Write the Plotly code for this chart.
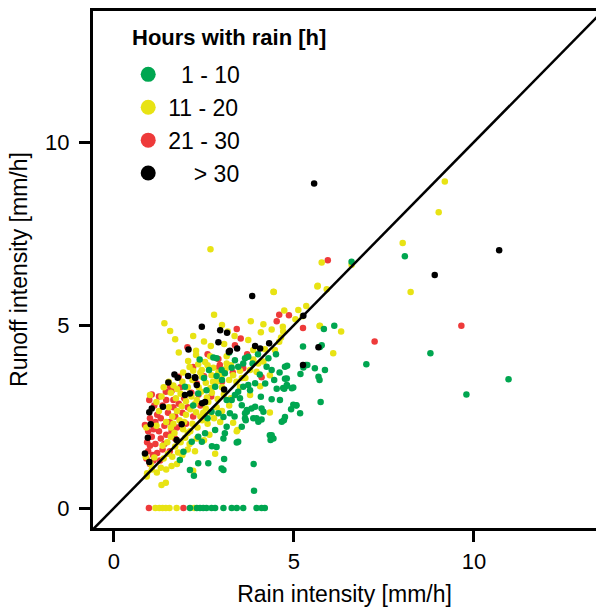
import plotly.graph_objects as go

# ---------------- data (rain intensity [mm/h], runoff intensity [mm/h]) ----------------
green_pts = [
    (8.08, 6.88), (6.60, 6.73), (8.79, 4.23), (10.96, 3.52), (9.79, 3.10), (7.01, 3.93),
    (5.83, 4.89), (6.12, 4.98), (5.25, 4.41), (5.72, 4.40), (5.77, 4.45), (5.33, 3.91),
    (4.81, 3.89), (5.58, 3.82), (5.86, 3.77), (5.18, 3.66), (4.75, 3.53), (4.80, 3.54),
    (5.71, 3.50), (4.81, 3.34), (4.98, 3.29), (4.70, 3.28), (4.52, 3.26), (4.73, 3.26),
    (5.74, 2.90), (4.98, 2.82), (5.06, 2.80), (4.92, 2.70), (5.17, 2.59), (4.72, 2.40),
    (4.66, 2.36), (4.38, 1.99), (4.35, 1.86), (4.43, 1.90), (3.88, 1.20), (3.89, 0.47),
    (3.04, 1.04), (3.06, 1.34), (2.62, 1.22), (2.22, 0.88), (2.72, 1.69), (3.41, 1.79),
    (3.55, 2.22), (3.08, 2.04), (3.66, 2.40), (3.87, 2.45), (4.10, 2.42), (4.08, 3.04),
    (4.38, 2.97), (3.69, 2.63), (3.36, 4.04), (3.64, 4.09), (3.73, 4.13), (3.59, 3.95),
    (4.29, 4.09), (3.27, 3.83), (3.45, 3.86), (4.24, 3.86), (4.38, 3.77), (4.75, 3.86),
    (5.37, 3.91), (5.26, 3.84), (5.68, 3.59), (2.38, 4.06), (2.76, 4.11), (2.64, 3.77),
    (2.99, 3.77), (2.85, 3.61), (3.08, 3.68), (3.27, 2.95), (3.36, 3.09), (3.45, 3.18),
    (3.59, 3.31), (3.73, 3.36), (3.92, 3.41), (3.78, 3.22), (3.55, 2.81), (3.69, 2.68),
    (3.64, 2.59), (3.82, 2.72), (3.92, 2.77), (4.10, 2.72), (4.15, 2.63), (3.96, 2.45),
    (4.01, 2.36), (3.64, 2.45), (3.45, 1.81), (4.33, 1.99), (4.61, 2.95), (4.80, 3.36),
    (4.94, 3.27), (5.07, 2.81), (4.75, 2.49), (1.97, 3.31), (2.34, 3.13), (2.57, 3.22),
    (2.81, 3.31), (2.71, 2.63), (2.90, 2.59), (3.04, 2.49), (2.34, 1.95), (2.44, 1.81),
    (2.16, 1.81), (2.53, 2.04), (2.81, 2.13), (3.13, 2.22), (3.04, 1.90), (2.85, 1.67),
    (2.34, 1.22), (2.11, 1.04), (2.99, 1.08), (1.83, 1.31), (1.93, 1.54), (3.13, 2.95),
    (3.22, 2.59), (4.05, 3.65), (4.20, 3.40), (4.45, 3.50), (4.60, 3.70), (3.85, 3.95),
    (4.00, 4.20), (2.50, 3.55), (3.20, 4.25), (2.85, 4.09), (4.50, 4.20), (3.00, 3.50),
    (2.20, 2.80), (2.60, 2.45), (3.35, 2.50), (3.50, 3.00),
    (2.11, 0.0), (2.30, 0.0), (2.39, 0.0), (2.48, 0.0), (2.57, 0.0), (2.71, 0.0),
    (2.81, 0.0), (3.04, 0.0), (3.27, 0.0), (3.41, 0.0), (3.59, 0.0), (3.96, 0.0),
    (4.10, 0.0), (4.19, 0.0),
]

red_pts = [
    (9.65, 4.98), (7.24, 4.55), (5.94, 6.77), (4.86, 5.27), (4.59, 5.28), (5.25, 4.92),
    (4.52, 5.10), (3.41, 4.89), (3.52, 4.63), (3.36, 4.45), (2.04, 4.39), (2.90, 4.07),
    (2.94, 3.91), (2.92, 3.84), (1.80, 3.59), (3.59, 3.82), (4.10, 3.57), (1.05, 2.31),
    (1.56, 3.31), (1.44, 3.18), (0.86, 2.27),
    (0.90, 1.35), (0.95, 1.55), (1.00, 1.70), (0.92, 1.80), (1.05, 1.95), (0.95, 2.10),
    (1.10, 2.15), (1.00, 2.45), (1.15, 2.35), (1.20, 2.55), (1.25, 2.10), (1.30, 1.90),
    (1.15, 1.75), (1.20, 1.50), (1.10, 1.30), (1.35, 1.60), (1.40, 2.25), (1.45, 2.00),
    (1.50, 2.60), (1.55, 2.35), (1.60, 2.10), (1.35, 2.80), (1.45, 2.95), (1.65, 2.75),
    (1.70, 2.50), (1.75, 2.20), (1.80, 2.85), (1.90, 2.60), (1.95, 3.00), (2.05, 2.75),
    (1.25, 3.05), (1.60, 3.20), (1.85, 3.30), (2.15, 3.15), (2.30, 3.40), (2.50, 3.60),
    (2.20, 3.85), (2.60, 4.20), (1.00, 1.20), (1.08, 1.45), (1.28, 1.30), (1.40, 1.75),
    (1.55, 1.55), (1.70, 1.90), (2.00, 2.30), (2.20, 2.50), (2.40, 2.80), (2.70, 3.05),
    (1.12, 2.80), (0.98, 2.95), (1.05, 3.10), (1.30, 2.45), (1.65, 2.95), (2.35, 3.10),
    (3.00, 3.45), (3.30, 3.70), (3.70, 4.20),
    (0.97, 0.0), (1.93, 0.0),
]

yellow_pts = [
    (9.19, 8.92), (9.02, 8.08), (8.02, 7.24), (8.24, 5.90), (2.68, 7.07), (5.77, 6.71),
    (6.60, 6.65), (5.65, 6.05), (5.91, 5.98), (4.44, 5.90), (5.34, 5.52), (5.12, 5.41),
    (4.73, 5.40), (5.04, 5.16), (5.24, 5.24), (4.69, 4.95), (4.70, 4.82), (5.71, 4.97),
    (6.31, 4.82), (6.09, 4.23), (4.15, 5.02), (4.38, 4.88), (4.08, 4.80), (3.73, 4.59),
    (4.59, 4.54), (4.64, 4.66), (3.87, 4.32), (4.19, 4.34), (4.47, 4.32), (3.87, 4.06),
    (4.01, 3.95), (4.15, 4.00), (3.78, 3.77), (3.96, 3.72), (4.33, 3.63), (3.31, 3.63),
    (1.40, 5.05), (1.56, 4.84), (1.70, 4.61), (2.78, 5.28), (3.16, 4.82), (3.06, 4.48),
    (2.69, 4.43), (2.28, 4.30), (2.28, 4.18), (2.06, 4.02), (2.34, 3.93), (2.53, 3.99),
    (2.67, 4.15), (3.13, 4.15), (3.13, 3.95), (2.20, 3.75), (2.44, 3.77), (2.76, 3.83),
    (2.44, 3.59), (2.71, 3.63), (2.99, 3.63), (1.00, 3.09), (1.32, 0.63), (1.44, 0.69),
    (0.91, 0.86), (1.19, 0.97), (2.20, 1.02), (2.81, 1.48), (3.41, 2.10), (3.43, 2.13),
    (3.31, 2.33), (4.33, 2.61), (4.06, 3.33), (3.78, 3.09),
    (0.92, 0.95), (1.05, 1.05), (1.30, 1.10), (1.45, 1.05), (1.60, 1.15), (1.75, 1.20),
    (1.02, 1.20), (0.88, 1.40), (1.12, 1.38), (1.38, 1.35),
    (1.50, 1.48), (1.62, 1.40), (1.78, 1.52), (1.90, 1.45), (2.05, 1.60), (2.25, 1.55),
    (1.35, 1.70), (1.48, 1.80), (1.58, 1.95),
    (1.70, 1.68), (1.85, 1.80), (1.98, 1.92), (2.10, 1.75), (2.30, 1.90), (2.50, 1.85),
    (2.65, 2.00), (0.90, 2.20), (1.18, 2.25), (1.45, 2.35),
    (1.58, 2.20), (1.68, 2.05), (1.82, 2.40), (1.92, 2.15), (2.05, 2.05), (2.18, 2.30),
    (2.32, 2.20), (2.45, 2.40), (2.60, 2.30), (2.78, 2.45), (2.95, 2.35),
    (1.25, 2.65), (1.52, 2.75), (1.62, 2.50), (1.75, 2.65), (1.88, 2.78),
    (2.00, 2.55), (2.12, 2.70), (2.28, 2.62), (2.40, 2.50), (2.55, 2.72), (2.70, 2.60),
    (2.85, 2.75), (3.00, 2.65), (3.20, 2.80), (1.18, 2.90), (1.32, 3.05),
    (1.58, 3.15), (1.72, 3.00), (1.85, 3.12), (2.00, 2.92), (2.15, 3.05), (2.30, 2.95),
    (2.42, 3.18), (2.58, 3.02), (2.72, 3.15), (2.88, 2.98), (3.05, 3.10), (3.25, 3.00),
    (3.50, 3.30), (1.38, 3.30), (1.52, 3.45), (1.65, 3.35), (1.90, 3.45), (2.05, 3.30),
    (2.18, 3.50), (2.35, 3.30), (2.55, 3.42), (2.68, 3.28), (2.85, 3.45), (3.00, 3.30),
    (3.20, 3.50), (3.40, 3.45), (3.65, 3.55), (1.92, 3.70), (2.10, 3.85), (2.60, 3.90),
    (2.90, 3.70), (3.25, 3.90), (3.50, 3.75), (1.80, 4.25), (2.50, 4.55), (3.35, 4.70),
    (3.00, 5.00), (2.20, 4.70), (3.80, 5.10), (4.43, 5.91), (5.66, 6.07), (5.72, 4.98),
    (1.65, 2.30), (1.95, 2.35),
    (2.12, 2.10), (2.25, 2.85), (2.48, 2.60), (2.62, 2.90), (1.75, 3.25),
    (2.40, 3.70), (2.75, 3.45), (3.10, 3.80), (3.55, 3.55),
    (1.15, 0.0), (1.26, 0.0), (1.35, 0.0), (1.44, 0.0), (1.54, 0.0), (1.74, 0.0),
    (2.23, 0.0),
]

black_pts = [
    (5.56, 8.87), (10.70, 7.04), (8.91, 6.37), (3.84, 5.79), (5.26, 5.25), (2.44, 4.95),
    (2.95, 4.86), (3.14, 4.79), (2.90, 4.53), (3.19, 4.27), (3.42, 4.36), (3.22, 4.30),
    (3.92, 4.43), (4.06, 4.36), (4.31, 4.50), (5.68, 4.39), (5.25, 3.91), (2.07, 4.33),
    (1.68, 3.65), (1.77, 3.56), (2.06, 3.61), (2.26, 3.55), (1.51, 3.43), (2.25, 3.57),
    (1.36, 2.77), (1.05, 2.72), (0.98, 2.62), (1.02, 2.29), (1.88, 2.29), (1.97, 3.09),
    (2.53, 2.90), (2.45, 2.86), (3.06, 3.24), (0.94, 1.92), (0.86, 1.49), (0.98, 1.26),
    (1.74, 1.86), (2.11, 3.13), (2.30, 3.36),
]

legend_title = "Hours with rain [h]"
legend_labels = ["\u20071 - 10", "11 - 20", "21 - 30", "\u2007\u2007> 30"]
colors = ["#00a650", "#e8e314", "#ee3a3a", "#000000"]
x_range = [-0.583, 13.39]
y_range = [-0.546, 13.58]
ticks = [0, 5, 10]

FONT = "Liberation Sans, Arial, sans-serif"

fig = go.Figure()

series = [(red_pts, colors[2]), (yellow_pts, colors[1]), (green_pts, colors[0]), (black_pts, colors[3])]
for pts, col in series:
    fig.add_trace(go.Scatter(
        x=[p[0] for p in pts], y=[p[1] for p in pts], mode="markers",
        marker=dict(size=6.5, color=col, line=dict(width=0)),
        showlegend=False, hoverinfo="skip"))

for lab, col in zip(legend_labels, colors):
    fig.add_trace(go.Scatter(
        x=[None], y=[None], mode="markers", name=lab, legendgroup=lab,
        marker=dict(size=15, color=col)))

# 1:1 line
fig.add_trace(go.Scatter(
    x=[-1, 15], y=[-1, 15], mode="lines",
    line=dict(color="black", width=2.5), showlegend=False, hoverinfo="skip"))

axis_common = dict(
    showline=True, linewidth=3, linecolor="black", showgrid=False, zeroline=False,
    ticks="outside", ticklen=11, tickwidth=2.5, tickcolor="black",
    tickvals=ticks, tickfont=dict(family=FONT, size=22, color="black"),
)

fig.update_layout(
    width=596, height=611,
    margin=dict(l=93, r=0, t=11, b=83),
    paper_bgcolor="white", plot_bgcolor="white",
    xaxis=dict(range=x_range, mirror=True, ticklabelstandoff=1,
               title=dict(text="Rain intensity [mm/h]", standoff=13,
                          font=dict(family=FONT, size=23, color="black")),
               **axis_common),
    yaxis=dict(range=y_range, ticklabelstandoff=5,
               title=dict(text="Runoff intensity [mm/h]", standoff=12,
                          font=dict(family=FONT, size=23, color="black")),
               **axis_common),
    legend=dict(
        x=0.07, y=0.919, xanchor="left", yanchor="top",
        bgcolor="rgba(0,0,0,0)", borderwidth=0,
        traceorder="grouped", tracegroupgap=0,
        font=dict(family=FONT, size=23, color="black"),
    ),
    annotations=[dict(
        text="<b>" + legend_title + "</b>", xref="paper", yref="paper",
        x=0.0735, y=0.948, xanchor="left", yanchor="middle", showarrow=False,
        font=dict(family=FONT, size=22, color="black"))],
)

fig.write_html("out.html")
